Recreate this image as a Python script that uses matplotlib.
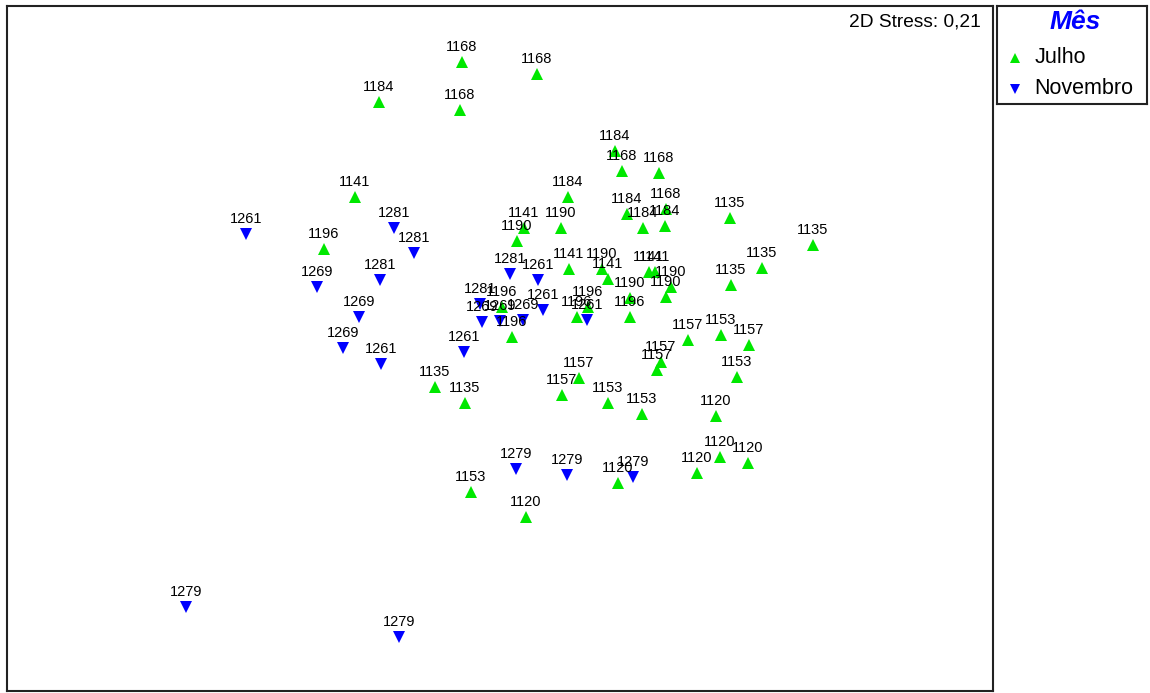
import matplotlib.pyplot as plt

plt.rcParams['font.family'] = ['Liberation Sans', 'DejaVu Sans']

# --- Coordenadas NMDS (eixo 1, eixo 2) e rótulo de cada amostra ---
julho_x = [-0.38, 0.37, -1.21, -0.40, 1.15, 1.22, 1.59, 0.68, 1.66, 1.27,
           1.43, 1.65, 2.30, 3.13, 2.62, 2.31, -1.45, -1.76, 0.24, 0.17,
           0.61, 0.69, 1.02, 1.08, 1.49, 1.55, 1.71, 1.66, 1.30, 1.30,
           0.88, 0.77, 0.02, 0.12, 1.88, 2.21, 2.49, 1.61, 1.57, 2.37,
           0.79, 0.62, -0.65, -0.35, 1.08, 1.42, 2.16, 2.20, 2.48, 1.97,
           1.18, -0.29, 0.26]
julho_y = [2.88, 2.76, 2.48, 2.40, 1.99, 1.79, 1.77, 1.53, 1.41, 1.36,
           1.22, 1.24, 1.32, 1.05, 0.82, 0.65, 1.53, 1.01, 1.22, 1.09,
           1.22, 0.81, 0.81, 0.71, 0.78, 0.78, 0.63, 0.53, 0.52, 0.33,
           0.43, 0.33, 0.43, 0.13, 0.10, 0.15, 0.05, -0.12, -0.20, -0.27,
           -0.28, -0.45, -0.37, -0.53, -0.53, -0.64, -0.66, -1.07, -1.13, -1.23,
           -1.33, -1.42, -1.67]
julho_lab = ['1168', '1168', '1184', '1168', '1184', '1168', '1168', '1184', '1168', '1184',
             '1184', '1184', '1135', '1135', '1135', '1135', '1141', '1196', '1141', '1190',
             '1190', '1141', '1190', '1141', '1141', '1141', '1190', '1190', '1190', '1196',
             '1196', '1196', '1196', '1196', '1157', '1153', '1157', '1157', '1157', '1153',
             '1157', '1157', '1135', '1135', '1153', '1153', '1120', '1120', '1120', '1120',
             '1120', '1153', '1120']

nov_x = [-2.54, -1.06, -0.86, -1.20, -1.83, -1.41, -1.57, -1.19, -0.36, 0.10,
         0.38, -0.20, 0.43, -0.18, 0.00, 0.23, 0.87, 0.16, 0.67, 1.33,
         -3.14, -1.01]
nov_y = [1.16, 1.22, 0.97, 0.70, 0.63, 0.33, 0.02, -0.14, -0.02, 0.76,
         0.70, 0.46, 0.40, 0.28, 0.29, 0.30, 0.30, -1.19, -1.25, -1.27,
         -2.57, -2.87]
nov_lab = ['1261', '1281', '1281', '1281', '1269', '1269', '1269', '1261', '1261', '1281',
           '1261', '1281', '1261', '1269', '1269', '1269', '1261', '1279', '1279', '1279',
           '1279', '1279']

stress = '2D Stress: 0,21'
meses = ['Julho', 'Novembro']

verde = '#00e800'
azul = '#0000ff'

fig = plt.figure(figsize=(11.5, 6.93), dpi=100)
ax = fig.add_axes([7 / 1150, 2 / 693, 986 / 1150, 685 / 693])

ax.plot(julho_x, julho_y, linestyle='none', marker='^', ms=8, mew=0, color=verde)
ax.plot(nov_x, nov_y, linestyle='none', marker='v', ms=8, mew=0, color=azul)

for x, y, t in zip(julho_x + nov_x, julho_y + nov_y, julho_lab + nov_lab):
    ax.annotate(t, (x, y), xytext=(0, 6), textcoords='offset points',
                ha='center', va='bottom', fontsize=10.5, color='black')

ax.text(0.9875, 0.977, stress, transform=ax.transAxes, ha='right', va='center', fontsize=13.8)

ax.set_xlim(-4.93, 4.93)
ax.set_ylim(-3.41, 3.44)
ax.set_xticks([])
ax.set_yticks([])
for s in ax.spines.values():
    s.set_linewidth(1.5)
    s.set_color('#222222')

# Caixa da legenda ao lado do gráfico, montada à mão
axl = fig.add_axes([997 / 1150, (693 - 104) / 693, 150 / 1150, 98 / 693])
axl.set_xlim(0, 1)
axl.set_ylim(0, 1)
axl.set_xticks([])
axl.set_yticks([])
for s in axl.spines.values():
    s.set_linewidth(1.5)
    s.set_color('#222222')

axl.text(0.52, 0.84, 'Mês', ha='center', va='center', fontsize=19,
         fontweight='bold', fontstyle='italic', color=azul)
for yy, mk, cor, nome in zip([0.47, 0.155], ['^', 'v'], [verde, azul], meses):
    axl.plot([0.12], [yy], linestyle='none', marker=mk, ms=7, mew=0, color=cor)
    axl.text(0.25, yy, nome, ha='left', va='center', fontsize=15.5)

fig.savefig('out.png', dpi=100)
